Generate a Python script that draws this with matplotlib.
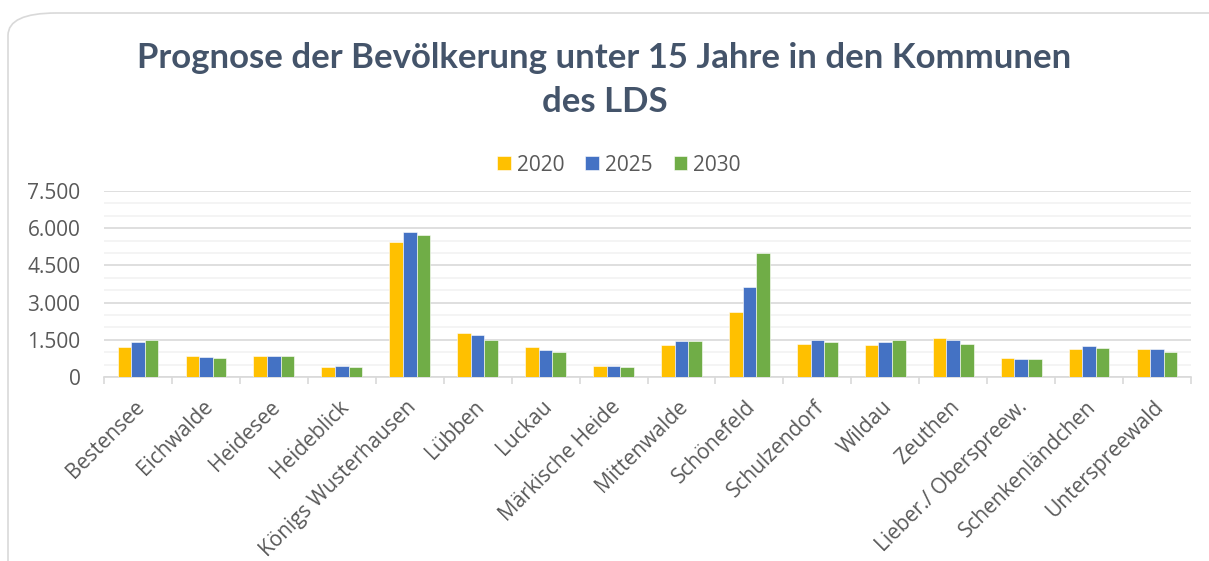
"""Bar chart: forecast of population under 15 in the LDS municipalities."""

import matplotlib

matplotlib.use("Agg")

import matplotlib.pyplot as plt
import matplotlib.transforms as mtransforms
import numpy as np
from matplotlib.patches import FancyBboxPatch
from matplotlib.ticker import FuncFormatter, MultipleLocator

CATEGORIES = [
    "Bestensee", "Eichwalde", "Heidesee", "Heideblick", "Königs Wusterhausen",
    "Lübben", "Luckau", "Märkische Heide", "Mittenwalde", "Schönefeld",
    "Schulzendorf", "Wildau", "Zeuthen", "Lieber./ Oberspreew.",
    "Schenkenländchen", "Unterspreewald",
]
YEARS = ["2020", "2025", "2030"]
VALUES_2020 = [1220, 845, 845, 415, 5450, 1755, 1190, 430, 1310, 2610,
               1350, 1310, 1580, 750, 1140, 1140]
VALUES_2025 = [1405, 815, 845, 430, 5865, 1690, 1100, 455, 1435, 3615,
               1500, 1420, 1475, 735, 1245, 1110]
VALUES_2030 = [1485, 750, 855, 400, 5720, 1500, 1020, 390, 1460, 5020,
               1420, 1485, 1325, 710, 1180, 1020]
COLORS = ["#FFC000", "#4472C4", "#70AD47"]

TITLE_FONT = ["Lato", "DejaVu Sans"]
LABEL_FONT = ["Open Sans", "DejaVu Sans"]
TEXT_GRAY = "#595959"

fig = plt.figure(figsize=(12.09, 5.61), dpi=100)
fig.patches.append(
    FancyBboxPatch(
        (8 / 1209, -0.1), 1.2, 1.1 - 13 / 561,
        boxstyle="round,pad=0,rounding_size=0.04",
        transform=fig.transFigure, facecolor="white",
        edgecolor="#D9D9D9", linewidth=1.2, zorder=-5,
    )
)

ax = fig.add_axes([104 / 1209, 1 - 377 / 561, (1191 - 104) / 1209, (377 - 191) / 561])
ax.set_facecolor("none")
ax.set_zorder(2)

x = np.arange(len(CATEGORIES))
width = 0.2
for offset, values, color, label in zip((-1, 0, 1), (VALUES_2020, VALUES_2025, VALUES_2030), COLORS, YEARS):
    ax.bar(x + offset * width, values, width, color=color, label=label,
           edgecolor="white", linewidth=0.4, zorder=3)

ax.set_xlim(-0.5, len(CATEGORIES) - 0.5)
ax.set_ylim(0, 7500)
ax.yaxis.set_major_locator(MultipleLocator(1500))
ax.yaxis.set_minor_locator(MultipleLocator(500))
ax.yaxis.set_major_formatter(FuncFormatter(lambda v, _: f"{int(v):,}".replace(",", ".")))
ax.grid(axis="y", which="major", color="#D9D9D9", linewidth=1.2, zorder=0)
ax.grid(axis="y", which="minor", color="#F2F2F2", linewidth=1.2, zorder=0)
ax.tick_params(axis="y", which="both", length=0, labelsize=15, labelcolor=TEXT_GRAY, pad=17)

ax.set_xticks(x)
ax.set_xticklabels(CATEGORIES, rotation=45, ha="right", rotation_mode="anchor",
                   fontsize=15, color=TEXT_GRAY, family=LABEL_FONT)
ax.set_xticks(np.arange(-0.5, len(CATEGORIES)), minor=True)
ax.tick_params(axis="x", which="major", length=0, pad=14)
ax.tick_params(axis="x", which="minor", length=5, color="#D9D9D9", width=1.2)
shift = mtransforms.ScaledTranslation(-4 / 100, 0, fig.dpi_scale_trans)
for lbl in ax.get_xticklabels():
    lbl.set_transform(lbl.get_transform() + shift)
for lbl in ax.get_yticklabels():
    lbl.set_family(LABEL_FONT)

for side in ("top", "right", "left"):
    ax.spines[side].set_visible(False)
ax.spines["bottom"].set_color("#D9D9D9")
ax.spines["bottom"].set_linewidth(1.2)

fig.text(0.5, 1 - 58 / 561, "Prognose der Bevölkerung unter 15 Jahre in den Kommunen",
         ha="center", va="center", fontsize=25, fontweight="bold", color="#44546A", family=TITLE_FONT)
fig.text(0.5, 1 - 102 / 561, "des LDS",
         ha="center", va="center", fontsize=25, fontweight="bold", color="#44546A", family=TITLE_FONT)

fig.legend(loc="center", bbox_to_anchor=(619 / 1209, 1 - 165 / 561), ncol=3, frameon=False,
           prop={"family": LABEL_FONT, "size": 15}, labelcolor=TEXT_GRAY,
           handlelength=0.65, handleheight=0.65, handletextpad=0.3, columnspacing=1.0)

fig.savefig("out.png", dpi=100)
